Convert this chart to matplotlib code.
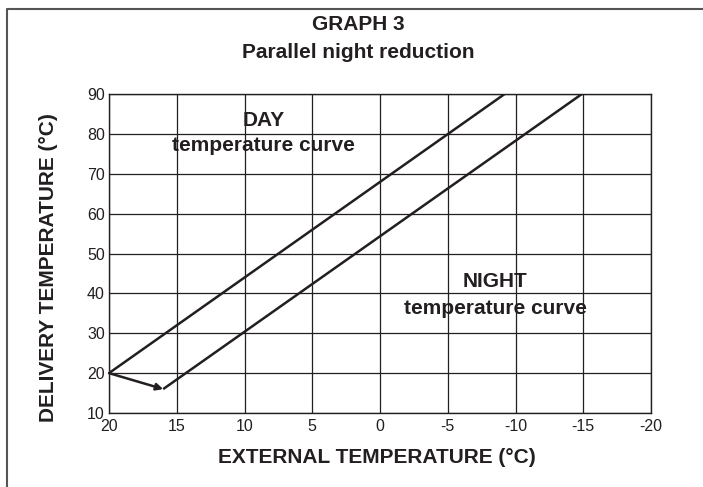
import matplotlib.pyplot as plt
from matplotlib.lines import Line2D

# values
ext_ticks = [20, 15, 10, 5, 0, -5, -10, -15, -20]
del_ticks = [10, 20, 30, 40, 50, 60, 70, 80, 90]
day_x = [20, -9.2]
day_y = [20, 90]
night_x = [16, -14.9]
night_y = [16, 90]
shift_from = (20, 20)
shift_to = (16, 16)

INK = '#231f20'
FONT = 'Liberation Sans'
plt.rcParams['font.family'] = FONT

fig = plt.figure(figsize=(7.03, 4.87), dpi=100)
ax = fig.add_axes([109/703, 1-413/487, (651-109)/703, (413-94)/487])

# outer frame, open at right and bottom like the source scan
fig.add_artist(Line2D([7/703, 7/703, 1.05], [-0.05, 1-9/487, 1-9/487],
                      transform=fig.transFigure, color='#555555', lw=1.5))

ax.set_xlim(20, -20)
ax.set_ylim(10, 90)
ax.set_xticks(ext_ticks)
ax.set_yticks(del_ticks)
ax.set_xticklabels([str(t) for t in ext_ticks])
ax.set_yticklabels([str(t) for t in del_ticks])
ax.tick_params(length=0, labelsize=11.5, colors=INK)
ax.tick_params(axis='x', pad=4)
ax.tick_params(axis='y', pad=3)
ax.grid(True, color=INK, lw=0.9)
ax.set_axisbelow(True)
for s in ax.spines.values():
    s.set_color(INK)
    s.set_linewidth(1.0)

ax.plot(day_x, day_y, color=INK, lw=1.8, solid_capstyle='butt')
ax.plot(night_x, night_y, color=INK, lw=1.8, solid_capstyle='butt')
ax.annotate('', xy=shift_to, xytext=shift_from,
            arrowprops=dict(arrowstyle='-|>', color=INK, lw=1.8,
                            mutation_scale=10, shrinkA=0, shrinkB=0))

bold = dict(fontsize=15, fontweight='bold', color=INK, ha='center', va='center')
ax.text(8.6, 83.4, 'DAY', **bold)
ax.text(8.6, 77.2, 'temperature curve', **bold)
ax.text(-8.5, 43.1, 'NIGHT', **bold)
ax.text(-8.5, 36.3, 'temperature curve', **bold)

ax.set_xlabel('EXTERNAL TEMPERATURE (°C)', fontsize=15, fontweight='bold', color=INK)
ax.xaxis.set_label_coords((377-109)/542, -(448-413)/319)
ax.set_ylabel('DELIVERY TEMPERATURE (°C)', fontsize=15, fontweight='bold', color=INK)
ax.yaxis.set_label_coords(-(109-58)/542, (413-268)/319)

fig.text(358/703, 1-25/487, 'GRAPH 3', fontsize=15, fontweight='bold', color=INK,
         ha='center', va='center')
fig.text(358/703, 1-53/487, 'Parallel night reduction', fontsize=15, fontweight='bold',
         color=INK, ha='center', va='center')

fig.savefig('out.png', dpi=100)
